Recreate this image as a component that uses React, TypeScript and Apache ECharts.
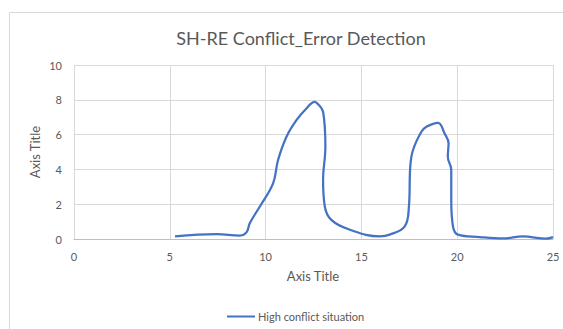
import React, { useEffect, useRef } from "react";
import * as echarts from "echarts";

const seriesName = "High conflict situation";
const xValues = [5.27, 7.44, 8.66, 9.0, 9.18, 9.7, 10.39, 10.65, 11.09, 11.61, 12.13, 12.56, 12.74, 13.0, 13.12, 13.0, 13.09, 13.43, 14.4, 15.95, 16.48, 17.26, 17.48, 17.55, 17.69, 18.13, 18.39, 19.0, 19.34, 19.55, 19.51, 19.69, 19.69, 19.78, 20.04, 21.17, 22.4, 23.43, 24.65, 25.0];
const yValues = [0.15, 0.28, 0.2, 0.38, 0.92, 1.87, 3.2, 4.54, 5.88, 6.83, 7.5, 7.88, 7.75, 7.31, 5.3, 3.4, 1.87, 1.1, 0.53, 0.15, 0.25, 0.72, 1.87, 4.16, 5.1, 6.16, 6.45, 6.68, 6.07, 5.5, 4.73, 3.97, 2.25, 0.72, 0.25, 0.11, 0.03, 0.15, 0.02, 0.11];
const titleText = "SH-RE Conflict_Error Detection";
const xAxisTitle = "Axis Title";
const yAxisTitle = "Axis Title";

const FONT = "Lato, 'Open Sans', sans-serif";
const TEXT = "#595959";

export default function App() {
  const ref = useRef<HTMLDivElement>(null);
  useEffect(() => {
    if (!ref.current) return;
    const chart = echarts.init(ref.current, undefined, { renderer: "svg" });
    const data = xValues.map((x, i) => [x, yValues[i]]);
    chart.setOption({
      animation: false,
      backgroundColor: "#ffffff",
      textStyle: { fontFamily: FONT },
      title: {
        text: titleText,
        left: 296,
        top: 24,
        textAlign: "center",
        textStyle: { fontFamily: FONT, fontSize: 18, fontWeight: "normal", color: TEXT },
      },
      graphic: [
        {
          type: "rect",
          shape: { x: 9.5, y: 12.5, width: 700, height: 500 },
          style: { fill: "none", stroke: "#d9d9d9", lineWidth: 1 },
          silent: true,
        },
        {
          type: "text",
          x: 313,
          y: 276,
          style: { text: xAxisTitle, fill: TEXT, font: `13px ${FONT}`, align: "center", verticalAlign: "middle" },
        },
        {
          type: "text",
          x: 35,
          y: 152,
          rotation: Math.PI / 2,
          style: { text: yAxisTitle, fill: TEXT, font: `13px ${FONT}`, align: "center", verticalAlign: "middle" },
        },
      ],
      legend: {
        data: [seriesName],
        left: 222,
        top: 306,
        itemWidth: 28,
        itemHeight: 10,
        itemGap: 3,
        icon: "path://M0,4 L28,4 L28,6 L0,6 Z",
        textStyle: { fontFamily: FONT, fontSize: 11, color: TEXT, padding: [0, 0, 0, -2] },
      },
      grid: { left: 74, right: 10, top: 65, bottom: 90, containLabel: false },
      xAxis: {
        type: "value",
        min: 0,
        max: 25,
        interval: 5,
        axisLine: { show: true, lineStyle: { color: "#bfbfbf", width: 1 } },
        axisTick: { show: false },
        splitLine: { show: true, lineStyle: { color: "#d9d9d9", width: 1 } },
        axisLabel: { color: TEXT, fontSize: 11, fontFamily: FONT, margin: 12 },
      },
      yAxis: {
        type: "value",
        min: 0,
        max: 10,
        interval: 2,
        axisLine: { show: false },
        axisTick: { show: false },
        splitLine: { show: true, lineStyle: { color: "#d9d9d9", width: 1 } },
        axisLabel: { color: TEXT, fontSize: 11, fontFamily: FONT, margin: 12 },
      },
      series: [
        {
          name: seriesName,
          type: "line",
          data,
          smooth: 0.4,
          showSymbol: false,
          symbol: "none",
          lineStyle: { color: "#4472C4", width: 2.25 },
          itemStyle: { color: "#4472C4" },
        },
      ],
    });
    return () => chart.dispose();
  }, []);
  return (
    <div
      ref={ref}
      style={{ position: "fixed", left: 0, top: 0, width: 563, height: 329 }}
    />
  );
}
